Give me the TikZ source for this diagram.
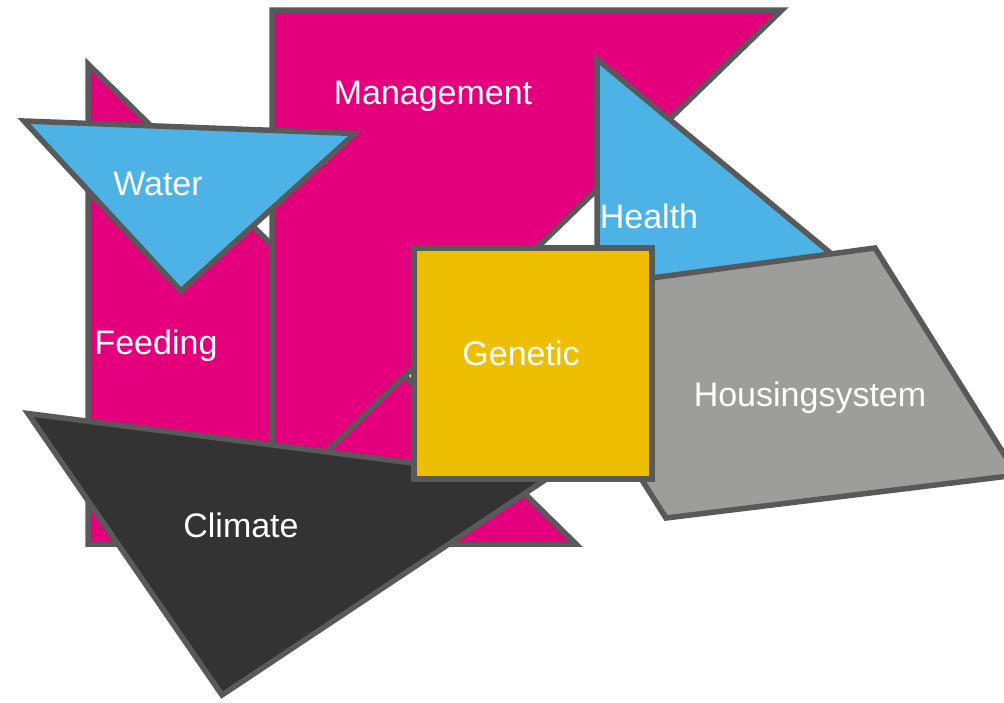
\documentclass[tikz,border=0pt]{standalone}
\usepackage{fontspec}
\setmainfont{Liberation Sans}
\definecolor{pinkfill}{HTML}{E4007C}
\definecolor{bluefill}{HTML}{4DB3E6}
\definecolor{goldfill}{HTML}{EDBF00}
\definecolor{greyfill}{HTML}{9D9D9C}
\definecolor{darkfill}{HTML}{333333}
\definecolor{edgegrey}{HTML}{595959}
\begin{document}
\begin{tikzpicture}[x=1pt,y=-1pt,
  piece/.style={draw=edgegrey, line width=5.5pt, line join=miter},
  tag/.style={text=white, font=\fontsize{34}{40}\selectfont, anchor=base, inner sep=0pt}]
\useasboundingbox (0,0) rectangle (1004,702);
\fill[white] (0,0) rectangle (1004,702);

% pieces, back to front
\draw[piece, fill=pinkfill] (88,64) -- (88,544) -- (576,544) -- cycle;          % Feeding
\draw[piece, fill=pinkfill] (272,10) -- (782,10) -- (272,505) -- cycle;         % Management
\draw[piece, fill=bluefill] (24,121) -- (355,133.5) -- (181,291) -- cycle;      % Water
\draw[piece, fill=bluefill] (597,59) -- (887,300) -- (597,300) -- cycle;        % Health
\draw[piece, fill=darkfill] (28,413.5) -- (545,480) -- (222,695) -- cycle;      % Climate
\draw[piece, fill=greyfill] (525,295) -- (875,248) -- (1017,475) -- (666,518) -- cycle; % Housingsystem
\draw[piece, fill=goldfill] (414,248) rectangle (652,479);                       % Genetic

% labels
\node[tag] (management) at (433,104) {Management};
\node[tag] (water)      at (158,195) {Water};
\node[tag] (feeding)    at (156,354) {Feeding};
\node[tag] (health)     at (649,228) {Health};
\node[tag] (genetic)    at (521,365) {Genetic};
\node[tag] (housing)    at (810,406) {Housingsystem};
\node[tag] (climate)    at (241,537) {Climate};
\end{tikzpicture}
\end{document}
